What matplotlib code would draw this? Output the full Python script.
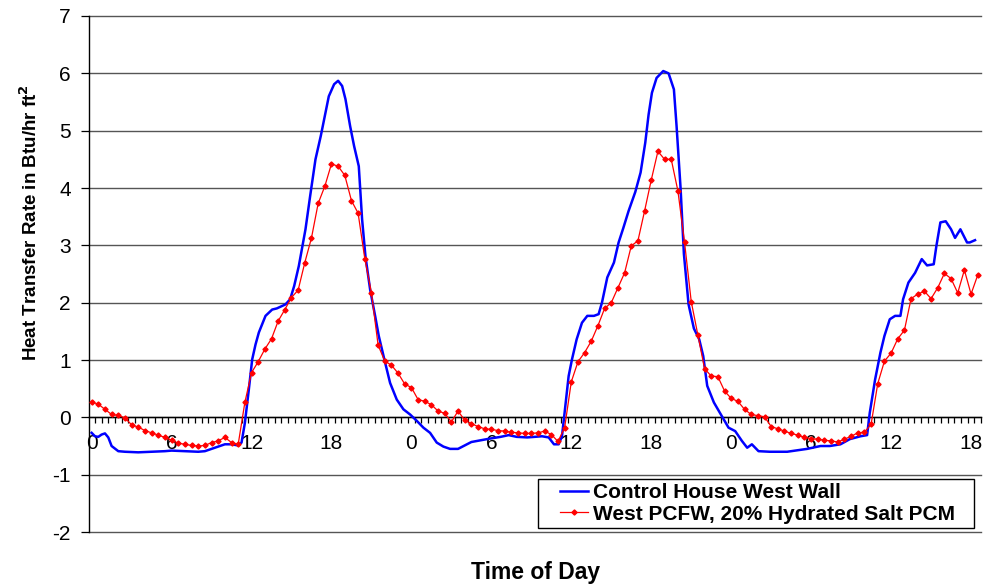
import matplotlib
matplotlib.use("Agg")
import matplotlib.pyplot as plt
import numpy as np
from matplotlib.patches import Rectangle
from matplotlib.ticker import FixedLocator, FuncFormatter

plt.rcParams["font.family"] = ["Liberation Sans", "DejaVu Sans"]
plt.rcParams["axes.unicode_minus"] = False

# PCM wall, sampled every half hour from hour 0
red_hours = np.arange(0.0, 67.0, 0.5)
red_values = [
    0.27, 0.23, 0.14, 0.05, 0.035, -0.01, -0.13, -0.17, -0.23, -0.27,
    -0.31, -0.35, -0.40, -0.45, -0.47, -0.49, -0.50, -0.49, -0.44, -0.41,
    -0.35, -0.44, -0.47, 0.26, 0.78, 0.97, 1.19, 1.37, 1.68, 1.88,
    2.09, 2.22, 2.70, 3.13, 3.73, 4.03, 4.42, 4.38, 4.22, 3.78,
    3.56, 2.77, 2.17, 1.26, 0.98, 0.91, 0.77, 0.58, 0.52, 0.31,
    0.28, 0.22, 0.11, 0.07, -0.08, 0.11, -0.05, -0.11, -0.16, -0.20,
    -0.21, -0.23, -0.24, -0.26, -0.27, -0.28, -0.28, -0.27, -0.24, -0.30,
    -0.42, -0.18, 0.62, 0.97, 1.13, 1.33, 1.60, 1.90, 2.00, 2.26,
    2.52, 2.99, 3.08, 3.60, 4.14, 4.64, 4.50, 4.50, 3.95, 3.05,
    2.02, 1.43, 0.85, 0.72, 0.71, 0.46, 0.33, 0.28, 0.14, 0.05,
    0.03, 0.01, -0.16, -0.20, -0.24, -0.28, -0.31, -0.35, -0.37, -0.38,
    -0.40, -0.41, -0.43, -0.38, -0.33, -0.27, -0.26, -0.12, 0.59, 0.98,
    1.12, 1.37, 1.52, 2.07, 2.15, 2.20, 2.07, 2.26, 2.51, 2.42,
    2.17, 2.57, 2.15, 2.48,
]

# control wall at irregular times
blue_hours = [
    0, 0.25, 0.5, 0.75, 1.0, 1.25, 1.5, 2.0, 2.5, 3.5, 4.5, 5.5, 6.0, 7.0,
    8.0, 8.5, 9.0, 9.5, 10.0, 10.5, 11.0, 11.25, 11.5, 11.8, 12.05, 12.3,
    12.55, 13.05, 13.55, 13.9, 14.55, 14.9, 15.2, 15.55, 16.05, 16.4, 16.8,
    17.2, 17.4, 17.8, 18.2, 18.5, 18.8, 19.05, 19.4, 19.7, 20.05, 20.3,
    20.55, 20.9, 21.3, 21.55, 22.0, 22.4, 22.9, 23.4, 23.9, 24.4, 24.9,
    25.4, 25.9, 26.4, 26.9, 27.5, 28.0, 28.5, 29.2, 29.9, 30.7, 31.3, 31.9,
    32.7, 33.3, 33.8, 34.3, 34.7, 35.05, 35.3, 35.55, 35.8, 36.05, 36.4,
    36.8, 37.2, 37.7, 38.05, 38.3, 38.7, 39.2, 39.55, 39.9, 40.3, 40.8,
    41.2, 41.55, 41.8, 42.05, 42.4, 42.9, 43.3, 43.7, 43.9, 44.2, 44.45,
    44.8, 45.2, 45.6, 45.9, 46.2, 46.7, 47.3, 47.8, 48.3, 48.8, 49.2, 49.55,
    50.05, 50.9, 52.2, 53.7, 54.7, 55.4, 56.2, 56.9, 57.7, 58.2, 58.4, 58.8,
    59.2, 59.5, 59.9, 60.3, 60.7, 60.9, 61.3, 61.8, 62.3, 62.7, 63.2, 63.4,
    63.7, 64.1, 64.5, 64.8, 65.2, 65.7, 65.9, 66.3,
]
blue_values = [
    -0.27, -0.33, -0.34, -0.30, -0.28, -0.35, -0.50, -0.59, -0.60, -0.61,
    -0.60, -0.59, -0.58, -0.59, -0.60, -0.59, -0.55, -0.51, -0.47, -0.47,
    -0.49, -0.44, -0.10, 0.49, 1.01, 1.27, 1.48, 1.77, 1.88, 1.90, 1.97,
    2.06, 2.29, 2.64, 3.28, 3.86, 4.50, 4.91, 5.14, 5.60, 5.81, 5.87, 5.78,
    5.55, 5.08, 4.73, 4.38, 3.45, 2.81, 2.23, 1.74, 1.42, 0.98, 0.60, 0.31,
    0.14, 0.05, -0.06, -0.18, -0.27, -0.44, -0.51, -0.55, -0.55, -0.49,
    -0.43, -0.40, -0.37, -0.34, -0.31, -0.34, -0.35, -0.34, -0.33, -0.35,
    -0.47, -0.47, -0.33, 0.20, 0.72, 1.01, 1.36, 1.65, 1.77, 1.77, 1.80,
    2.00, 2.44, 2.70, 3.05, 3.30, 3.60, 3.93, 4.27, 4.79, 5.28, 5.66, 5.92,
    6.04, 6.00, 5.72, 5.08, 4.00, 2.85, 1.97, 1.55, 1.36, 1.07, 0.55, 0.26,
    0.02, -0.18, -0.24, -0.41, -0.53, -0.47, -0.59, -0.60, -0.60, -0.55,
    -0.50, -0.50, -0.47, -0.38, -0.33, -0.31, 0.08, 0.66, 1.13, 1.42, 1.71,
    1.77, 1.77, 2.06, 2.35, 2.52, 2.76, 2.65, 2.67, 2.99, 3.40, 3.42, 3.28,
    3.13, 3.28, 3.05, 3.05, 3.09,
]

label_hours = list(range(0, 67, 6))
y_ticks = list(range(-2, 8))

fig = plt.figure(figsize=(9.83, 5.88), dpi=100)
ax = fig.add_axes([0.0905, 0.0952, 0.9075, 0.8776])

ax.plot(blue_hours, blue_values, color="#0000ff", lw=1.8,
        label="Control House West Wall", zorder=3)
ax.plot(red_hours, red_values, color="#ff0000", lw=0.9, marker="D",
        markersize=2.6, label="West PCFW, 20% Hydrated Salt PCM", zorder=4)

ax.set_xlim(-0.2, 66.75)
ax.set_ylim(-2, 7)

# y axis
ax.set_yticks(y_ticks)
ax.tick_params(axis="y", direction="out", length=6, width=0.9,
               labelsize=15, pad=7)
ax.yaxis.grid(True, color="#555555", lw=1.0)
for gl in ax.get_ygridlines():
    gl.set_clip_on(False)
ax.set_axisbelow(True)
ax.set_ylabel(r"Heat Transfer Rate in Btu/hr ft$^\mathbf{2}$",
              fontsize=13.5, fontweight="bold")
ax.yaxis.set_label_coords(-0.054, 0.6)

# x axis sits on the zero line, ticks between half-hour samples
for side in ("top", "right"):
    ax.spines[side].set_visible(False)
ax.spines["bottom"].set_position(("data", 0))
ax.spines["bottom"].set_linewidth(1.0)
ax.spines["left"].set_linewidth(1.0)
ax.xaxis.set_major_locator(FixedLocator(label_hours))
ax.xaxis.set_major_formatter(FuncFormatter(lambda v, p: f"{int(v) % 24}"))
ax.xaxis.set_minor_locator(FixedLocator(np.arange(0.25, 66.8, 0.5)))
ax.tick_params(axis="x", which="major", length=0, labelsize=15, pad=12)
ax.tick_params(axis="x", which="minor", direction="out", length=4, width=0.9)

fig.text(0.545, 0.027, "Time of Day", ha="center", va="center",
         fontsize=16.5, fontweight="bold")

# legend box drawn separately so its padding matches the original
fig.patches.append(Rectangle((0.5473, 0.102), 0.4435, 0.0833,
                             transform=fig.transFigure, facecolor="white",
                             edgecolor="black", lw=1.0, zorder=1))
handles, labels = ax.get_legend_handles_labels()
leg = fig.legend(handles, labels, loc="center left",
                 bbox_to_anchor=(0.5697, 0.1437), frameon=False,
                 prop={"weight": "bold", "size": 15},
                 handlelength=1.35, handletextpad=0.25, borderpad=0,
                 labelspacing=0.12, borderaxespad=0)
leg.set_zorder(6)

fig.savefig("out.png", dpi=100)
